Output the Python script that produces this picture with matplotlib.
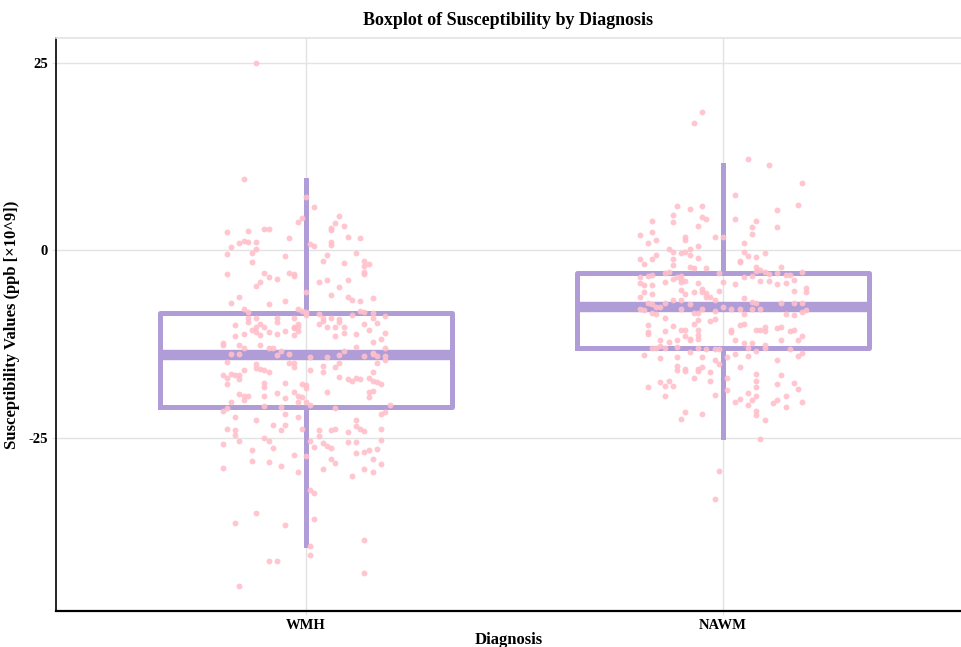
import matplotlib
matplotlib.use("Agg")
import matplotlib.pyplot as plt
import numpy as np

categories = ["WMH", "NAWM"]

# box statistics
q1 = [-20.9, -13.1]
med = [-14.0, -7.6]
q3 = [-8.4, -3.1]
whislo = [-39.3, -24.9]
whishi = [9.3, 11.3]

# jittered points: (horizontal jitter, value)
wmh_jit = [-0.12, -0.15,
    0.00, 0.02, -0.01, -0.02, 0.08, 0.07, 0.06, 0.06, 0.09, -0.19, -0.14, -0.10, -0.09, -0.04,
    -0.16, -0.15, -0.14, -0.12, -0.18, -0.19, -0.12, -0.13, 0.01, 0.02, 0.06, 0.06, 0.10, 0.13,
    0.12, 0.05, 0.04, 0.14, 0.14, 0.15, 0.09, -0.13, -0.05, -0.19, -0.10, -0.09, -0.07, -0.04,
    -0.03, -0.03, -0.11, -0.12, 0.14, 0.14, 0.05, 0.03, 0.10, 0.08, 0.00, 0.06, -0.16, -0.18,
    -0.15, -0.14, -0.09, -0.05, 0.10, 0.11, 0.13, 0.16, -0.02, -0.01, 0.00, 0.00, 0.13, 0.14,
    0.16, 0.19, 0.11, -0.14, -0.12, -0.07, -0.03, 0.03, 0.04, 0.06, 0.08, 0.16,
    -0.17, -0.14, -0.12, -0.11, -0.10, -0.07, -0.09, -0.07, -0.05, -0.03, -0.02, -0.02, -0.03,
    -0.02, -0.03, 0.03, 0.04, 0.05, 0.08, 0.07, 0.09, 0.07, 0.09, 0.12, 0.14, 0.15, 0.17, 0.19,
    -0.15, -0.13, -0.12, -0.11, -0.17, -0.20, -0.20, -0.16, -0.15, -0.11, -0.09, -0.08, -0.06,
    -0.07, -0.04, 0.01, 0.05, 0.08, 0.09, 0.12, 0.14, 0.16, 0.18, 0.16, 0.16, 0.17, 0.19, 0.19,
    -0.18, -0.16, -0.19, -0.12, -0.12, -0.11, -0.10, -0.09, -0.03, -0.04, -0.03, 0.01, 0.04,
    0.04, 0.08, 0.07, 0.16, 0.17, 0.19, -0.20, -0.19, -0.18, -0.17, -0.16, -0.16, -0.15, -0.19,
    -0.10, -0.10, -0.05, -0.01, 0.00, 0.00, 0.08, 0.10, 0.11, 0.12, 0.13, 0.15, 0.16, 0.17, 0.18,
    0.05, -0.16, -0.15, -0.14, -0.15, -0.10, -0.07, -0.05, -0.03, -0.02, -0.01, 0.00, 0.01,
    -0.02, 0.15, 0.16, 0.15, -0.18, -0.19, -0.20, -0.10, -0.06, -0.05, -0.02, 0.07, 0.20, 0.19,
    0.18, -0.17, -0.12, -0.19, -0.17, -0.17, -0.08, -0.06, -0.05, -0.01, 0.03, 0.06, 0.07, 0.10,
    0.12, 0.12, 0.13, 0.14, 0.18, -0.16, -0.10, -0.09, 0.01, 0.03, 0.04, 0.05, 0.06, 0.10, 0.12,
    0.18, -0.20, -0.13, -0.08, 0.02, 0.15, 0.17,
    -0.03, 0.00, -0.20, -0.13, -0.09, -0.06, -0.02, 0.04, 0.06, 0.07, 0.12, 0.14, 0.16, 0.18,
    0.14, 0.16, 0.11, 0.01, 0.02, -0.12, -0.17, -0.05, 0.02, 0.14, 0.01, 0.01, -0.09, -0.07,
    0.14, -0.16]
wmh_val = [24.9, 9.5,
    7.1, 5.8, 4.3, 3.7, 4.5, 3.6, 3.0, 2.7, 3.2, 2.4, 2.5, 2.8, 2.8, 1.6,
    1.0, 1.2, 1.1, 1.1, 0.4, -0.5, 0.1, -0.4, 0.8, 0.6, 1.1, 0.7, 1.7, 1.6,
    -0.4, -0.7, -1.4, -1.4, -2.1, -1.9, -1.7, -1.6, -0.8, -3.2, -3.0, -3.6, -3.8, -3.0,
    -3.2, -3.5, -4.2, -4.8, -2.9, -3.2, -4.0, -4.3, -4.0, -4.9, -5.6, -6.0, -6.2, -7.1,
    -7.9, -8.3, -7.2, -6.8, -6.2, -6.7, -6.8, -6.4, -7.9, -8.1, -8.3, -8.7, -8.1, -8.3,
    -8.4, -8.8, -8.7, -9.0, -9.0, -9.0, -9.0, -8.5, -9.1, -9.0, -9.2, -9.1,
    -10.0, -9.6, -10.2, -9.9, -10.3, -9.6, -10.9, -11.2, -10.8, -10.3, -9.9, -10.8, -11.3,
    -10.2, -10.4, -9.8, -9.5, -10.2, -9.6, -10.2, -10.2, -11.5, -11.0, -11.2, -9.8, -10.6, -9.7, -11.0,
    -11.2, -10.6, -10.9, -11.3, -11.4, -12.4, -12.6, -12.7, -13.1, -12.7, -13.1, -13.1, -13.4,
    -14.0, -13.8, -14.3, -14.2, -14.0, -13.4, -12.9, -14.1, -12.3, -11.9, -13.9, -13.7, -14.1, -13.1, -14.1,
    -13.9, -13.8, -14.9, -15.2, -15.7, -15.9, -16.0, -16.3, -15.0, -15.1, -15.6, -16.0, -16.2,
    -15.5, -15.0, -15.6, -16.2, -15.1, -14.6, -16.7, -17.0, -16.5, -16.6, -16.7, -17.2, -16.0, -17.8,
    -17.7, -18.2, -17.7, -17.8, -18.0, -18.4, -16.9, -17.2, -17.5, -17.1, -17.2, -17.0, -17.5, -17.6, -17.8,
    -18.9, -19.2, -19.4, -19.5, -20.0, -19.5, -19.1, -19.7, -18.9, -19.5, -19.6, -20.2, -20.6,
    -20.3, -18.9, -18.8, -19.6, -20.3, -21.0, -21.4, -20.8, -20.9, -21.8, -22.2, -21.0, -20.7, -21.6,
    -21.9, -22.2, -22.6, -23.8, -24.0, -24.7, -23.3, -24.0, -23.3, -23.8, -24.0, -24.0, -23.8, -24.2,
    -22.6, -23.5, -23.9, -24.1, -23.9, -25.4, -25.1, -25.5, -25.4, -24.8, -25.7, -26.1, -26.4, -25.6, -25.6,
    -25.3, -25.9, -26.6, -26.4, -26.3, -26.7, -26.5,
    -27.3, -27.5, -29.0, -28.1, -28.3, -28.8, -29.6, -29.2, -27.9, -28.4, -27.0, -26.9, -27.8, -28.5,
    -29.2, -29.6, -30.1, -32.0, -32.4, -35.1, -36.4, -36.7, -35.8, -38.6, -39.5, -40.7, -41.5, -41.4,
    -43.0, -44.8]

nawm_jit = [-0.05, -0.07, 0.06, 0.11, 0.19, 0.03, -0.11, -0.08, -0.05, -0.12, -0.12, -0.05,
    -0.04, -0.17, -0.17, -0.06, 0.03, 0.08, 0.07, 0.13, 0.18, 0.13, 0.07, -0.20, -0.16, -0.09,
    -0.09, -0.02, 0.00,
    -0.18, -0.06, -0.13, -0.12, -0.10, -0.09, -0.08, -0.08, -0.06, -0.20, -0.19, -0.17, -0.16,
    -0.12, -0.12, -0.08, -0.07, -0.04, 0.05, 0.05, 0.04, 0.04, 0.06, 0.08, 0.10, 0.08, 0.09, 0.10,
    0.14, 0.19, -0.20, -0.18, -0.17, -0.14, -0.13, -0.11, -0.10, -0.10, -0.10, -0.09, -0.12,
    -0.01, 0.08, 0.11, 0.13, 0.15, 0.16, -0.20, -0.19, -0.17, -0.14, -0.10, -0.09, -0.07, -0.06,
    -0.05, -0.05, -0.04, -0.01, 0.00, 0.03, 0.05, 0.07, 0.09, 0.11, 0.13, 0.15, 0.17, 0.17, 0.20,
    0.20, -0.20, -0.19, -0.17, -0.12, -0.10, -0.14, -0.17, -0.18, -0.15, -0.16, -0.20, -0.19,
    -0.17, -0.16, -0.14, -0.10, -0.08, -0.07, -0.06, -0.04, -0.03, -0.02, -0.05, -0.02, 0.00,
    -0.06, -0.03, -0.02, 0.02, 0.04, 0.05, 0.05, 0.07, 0.08, 0.07, 0.09, 0.15, 0.17, 0.17, 0.14,
    0.19, 0.19, 0.20, -0.18, -0.18, -0.18, -0.14, -0.12, -0.10, -0.09, -0.07, -0.06, -0.06,
    -0.06, -0.09, -0.08, -0.08, -0.11, -0.13, -0.15, -0.17, -0.16, -0.15, -0.14, -0.11, -0.06,
    -0.04, -0.02, -0.01, 0.02, 0.02, 0.04, 0.05, 0.08, 0.09, 0.10, 0.10, 0.13, 0.14, 0.16, 0.17,
    0.14, 0.19, 0.18, 0.03, 0.05, 0.07, 0.06, 0.10, 0.10, 0.03, 0.06, 0.08, 0.13, 0.16, 0.18,
    0.19, -0.19, -0.15, -0.11, -0.08, -0.05, -0.02, -0.01, 0.01, 0.04, -0.11, -0.09, -0.06, -0.05,
    -0.11, -0.09, -0.06, -0.03, 0.01, 0.08, 0.14, -0.18, -0.15, -0.14, -0.13, -0.12, -0.07, -0.03,
    0.08, 0.08, 0.13, 0.17, 0.18, -0.14, -0.02, 0.01, 0.06, 0.08, 0.15, 0.03, 0.04, 0.07, 0.06,
    0.12, 0.13, 0.15, 0.19, -0.09, -0.10, -0.05, 0.08, 0.08, 0.10, 0.09, -0.01, -0.02]
nawm_val = [18.4, 17.0, 12.2, 11.4, 8.9, 7.3, 5.9, 5.5, 5.9, 4.7, 3.7, 4.4,
    4.2, 3.9, 2.4, 3.2, 4.1, 3.9, 3.1, 5.3, 6.0, 3.1, 2.2, 2.0, 1.3, 1.7,
    1.4, 1.8, 1.8,
    0.9, 0.6, 0.1, -0.2, -0.4, -0.3, -0.7, 0.1, -1.0, -1.2, -1.9, -1.2, -0.7,
    -1.2, -2.0, -2.2, -2.4, -2.4, 0.9, -0.3, -1.4, -1.6, -0.8, -0.9, -0.4, -2.2, -2.7, -2.9,
    -2.2, -2.9, -3.6, -3.4, -3.3, -3.0, -2.9, -3.6, -3.4, -3.8, -4.3, -4.1, -3.9,
    -3.0, -2.8, -3.2, -3.1, -3.3, -3.3, -4.4, -4.6, -4.6, -4.3, -5.3, -5.9, -5.6, -4.4,
    -5.2, -5.6, -5.7, -5.4, -4.3, -4.5, -3.6, -3.5, -4.1, -4.1, -4.5, -4.4, -4.0, -5.4, -5.1,
    -5.6, -6.2, -5.6, -5.9, -6.6, -6.6, -7.0, -7.2, -7.0, -7.6, -7.6, -7.8, -8.0,
    -8.4, -8.5, -9.0, -7.8, -7.2, -8.4, -8.4, -6.3, -6.3, -6.7, -7.8, -8.1, -7.6,
    -9.3, -9.4, -9.2, -7.8, -7.9, -8.5, -6.4, -6.9, -7.1, -7.8, -7.9, -8.5, -8.7, -7.1, -7.0,
    -7.0, -8.3, -8.0, -10.9, -11.2, -10.0, -10.8, -10.1, -10.7, -10.7, -9.8, -10.7, -11.3,
    -11.9, -11.5, -11.8, -12.0, -12.0, -12.2, -12.0, -13.1, -13.1, -12.8, -13.1, -12.9, -13.1,
    -13.2, -13.2, -13.2, -10.6, -10.9, -10.0, -9.9, -10.6, -10.6, -10.3, -10.8, -10.4, -10.2, -10.8, -10.6,
    -12.0, -11.5, -12.0, -12.0, -12.4, -12.4, -13.1, -12.7, -13.1, -13.8, -14.1, -13.5, -14.6, -13.2, -14.1,
    -13.7, -14.0, -14.4, -14.2, -13.6, -14.3, -14.7, -15.2, -14.2, -15.6, -15.4, -15.8, -15.8, -15.6,
    -16.0, -16.1, -16.1, -16.3, -17.0, -16.5, -16.6, -18.2, -17.6, -18.1, -17.4, -18.1, -17.1, -17.5,
    -17.5, -18.2, -17.8, -17.7, -18.5, -19.5, -19.3, -18.7, -19.1, -19.4, -19.4, -20.3, -19.9, -20.0, -20.6,
    -20.4, -20.0, -20.9, -20.3, -21.6, -22.5, -21.9, -21.5, -22.0, -22.7, -25.2, -29.4, -33.2]

box_color = "#B09CD6"
point_color = "#FFC0CB"
grid_color = "#E3E3E3"

plt.rcParams["font.family"] = ["Liberation Serif", "DejaVu Serif"]
plt.rcParams["font.weight"] = "bold"

fig = plt.figure(figsize=(9.61, 6.47), dpi=100)
ax = fig.add_axes([0.0583, 0.0556, 0.9417, 0.8857])

ax.set_axisbelow(True)
ax.grid(True, color=grid_color, linewidth=1)

stats = []
for i, name in enumerate(categories):
    stats.append(dict(label=name, q1=q1[i], med=med[i], q3=q3[i],
                      whislo=whislo[i], whishi=whishi[i], fliers=[]))

ax.bxp(stats, positions=[0, 1], widths=0.7, showcaps=False, showfliers=False,
       boxprops=dict(color=box_color, linewidth=3.6),
       whiskerprops=dict(color=box_color, linewidth=3.6),
       medianprops=dict(color=box_color, linewidth=7.5, solid_capstyle="butt"),
       zorder=2)

for pos, jit, val in [(0, wmh_jit, wmh_val), (1, nawm_jit, nawm_val)]:
    ax.scatter(pos + np.array(jit), val, s=18, color=point_color, alpha=0.9,
               linewidths=0, zorder=3)

ax.set_xlim(-0.6, 1.571)
ax.set_ylim(-48.13, 28.27)
ax.set_xticks([0, 1])
ax.set_xticklabels(categories)
ax.set_yticks([-25, 0, 25])
ax.set_yticklabels(["-25", "0", "25"])
ax.tick_params(axis="both", length=3, color=grid_color, labelsize=10.5, pad=3)

for lab in ax.get_xticklabels() + ax.get_yticklabels():
    lab.set_fontweight("bold")

ax.spines["left"].set_color("black")
ax.spines["left"].set_linewidth(1.2)
ax.spines["bottom"].set_color("black")
ax.spines["bottom"].set_linewidth(1.6)
ax.spines["top"].set_color(grid_color)
ax.spines["top"].set_linewidth(1.2)
ax.spines["right"].set_visible(False)

ax.set_title("Boxplot of Susceptibility by Diagnosis", fontsize=13, fontweight="bold", pad=9)
ax.set_xlabel("Diagnosis", fontsize=12, fontweight="bold", labelpad=0)
ax.set_ylabel("Susceptibility Values (ppb [\u00d710^9])", fontsize=12, fontweight="bold", labelpad=6)

fig.savefig("out.png", dpi=100)
